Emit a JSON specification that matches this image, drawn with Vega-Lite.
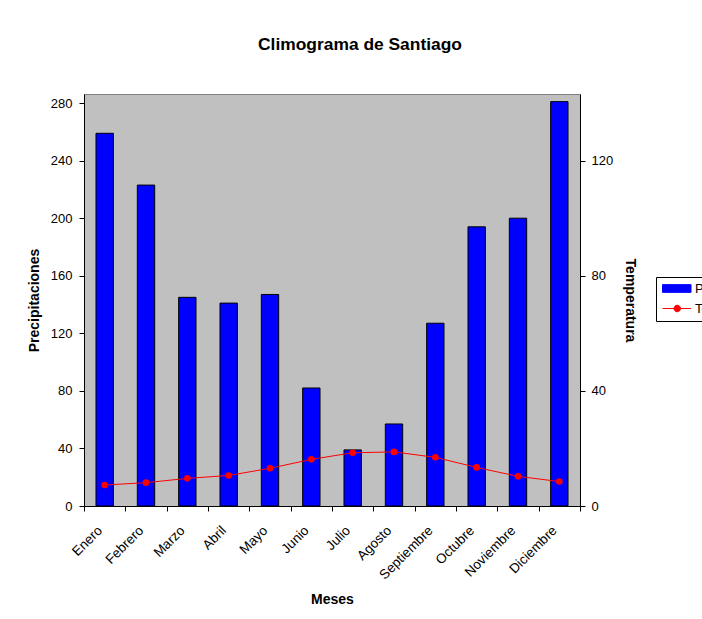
{
  "$schema": "https://vega.github.io/schema/vega-lite/v6.json",
  "width": 496,
  "height": 412,
  "autosize": {"type": "none"},
  "padding": {"left": 84, "top": 94, "right": 122, "bottom": 113},
  "background": "white",
  "title": {
    "text": "Climograma de Santiago",
    "font": "Liberation Sans",
    "fontSize": 17.4,
    "fontWeight": "bold",
    "color": "black",
    "anchor": "middle",
    "dx": 28,
    "offset": 41
  },
  "data": {
    "values": [
      {"mes": "Enero", "precipitaciones": 259, "temperatura": 7.3},
      {"mes": "Febrero", "precipitaciones": 223, "temperatura": 8.1},
      {"mes": "Marzo", "precipitaciones": 145, "temperatura": 9.6},
      {"mes": "Abril", "precipitaciones": 141, "temperatura": 10.6},
      {"mes": "Mayo", "precipitaciones": 147, "temperatura": 13.1},
      {"mes": "Junio", "precipitaciones": 82, "temperatura": 16.2},
      {"mes": "Julio", "precipitaciones": 39, "temperatura": 18.5},
      {"mes": "Agosto", "precipitaciones": 57, "temperatura": 18.8},
      {"mes": "Septiembre", "precipitaciones": 127, "temperatura": 16.9},
      {"mes": "Octubre", "precipitaciones": 194, "temperatura": 13.4},
      {"mes": "Noviembre", "precipitaciones": 200, "temperatura": 10.3},
      {"mes": "Diciembre", "precipitaciones": 281, "temperatura": 8.5}
    ]
  },
  "encoding": {
    "x": {
      "field": "mes",
      "type": "nominal",
      "sort": null,
      "scale": {"paddingInner": 0, "paddingOuter": 0},
      "axis": {
        "title": "Meses",
        "labelAngle": -45,
        "labelAlign": "right",
        "labelBaseline": "middle",
        "labelFontSize": 13.5,
        "labelPadding": 17,
        "labelOffset": -5,
        "tickBand": "extent",
        "tickSize": 5,
        "titlePadding": 11
      }
    }
  },
  "layer": [
    {
      "mark": {"type": "bar", "stroke": "black", "strokeWidth": 1, "width": {"band": 0.42}},
      "encoding": {
        "y": {
          "field": "precipitaciones",
          "type": "quantitative",
          "scale": {"domain": [0, 286.3], "nice": false},
          "axis": {
            "title": "Precipitaciones",
            "values": [0, 40, 80, 120, 160, 200, 240, 280],
            "labelPadding": 7,
            "titlePadding": 9
          }
        },
        "color": {
          "datum": "Precipitaciones",
          "type": "nominal",
          "scale": {"domain": ["Precipitaciones", "Temperatura"], "range": ["#0000FF", "#FF0000"]},
          "legend": {
            "title": null,
            "orient": "none",
            "legendX": 572,
            "legendY": 183,
            "strokeColor": "black",
            "fillColor": "white",
            "padding": 5,
            "symbolSize": 100,
            "labelFontSize": 13,
            "labelOffset": 21,
            "rowPadding": 6,
            "encode": {
              "symbols": {
                "update": {
                  "shape": {"signal": "datum.value === 'Precipitaciones' ? 'M-1,-0.77H4.7V0.77H-1Z' : 'M-1,0H4.7M1.3,0A0.65,0.65 0 1,0 2.6,0A0.65,0.65 0 1,0 1.3,0'"},
                  "fill": {"signal": "datum.value === 'Precipitaciones' ? '#0000FF' : '#FF0000'"},
                  "stroke": {"signal": "datum.value === 'Precipitaciones' ? '#000000' : '#FF0000'"},
                  "strokeWidth": {"value": 1},
                  "opacity": {"value": 1}
                }
              }
            }
          }
        }
      }
    },
    {
      "mark": {"type": "line", "strokeWidth": 1, "point": {"filled": true, "size": 44}},
      "encoding": {
        "y": {
          "field": "temperatura",
          "type": "quantitative",
          "scale": {"domain": [0, 143.15], "nice": false},
          "axis": {
            "title": "Temperatura",
            "orient": "right",
            "values": [0, 40, 80, 120],
            "labelPadding": 6,
            "titlePadding": 10
          }
        },
        "color": {
          "datum": "Temperatura",
          "type": "nominal",
          "legend": {
            "title": null,
            "orient": "none",
            "legendX": 572,
            "legendY": 183,
            "strokeColor": "black",
            "fillColor": "white",
            "padding": 5,
            "symbolSize": 100,
            "labelFontSize": 13,
            "labelOffset": 21,
            "rowPadding": 6,
            "encode": {
              "symbols": {
                "update": {
                  "shape": {"signal": "datum.value === 'Precipitaciones' ? 'M-1,-0.77H4.7V0.77H-1Z' : 'M-1,0H4.7M1.3,0A0.65,0.65 0 1,0 2.6,0A0.65,0.65 0 1,0 1.3,0'"},
                  "fill": {"signal": "datum.value === 'Precipitaciones' ? '#0000FF' : '#FF0000'"},
                  "stroke": {"signal": "datum.value === 'Precipitaciones' ? '#000000' : '#FF0000'"},
                  "strokeWidth": {"value": 1},
                  "opacity": {"value": 1}
                }
              }
            }
          }
        }
      }
    }
  ],
  "resolve": {"scale": {"y": "independent"}},
  "config": {
    "font": "Liberation Sans",
    "view": {"fill": "#C0C0C0", "stroke": "#808080", "strokeWidth": 1},
    "axis": {
      "grid": false,
      "domainColor": "black",
      "tickColor": "black",
      "labelColor": "black",
      "titleColor": "black",
      "labelFont": "Liberation Sans",
      "titleFont": "Liberation Sans",
      "labelFontSize": 13,
      "titleFontSize": 14,
      "titleFontWeight": "bold",
      "tickSize": 5,
      "labelPadding": 5
    },
    "legend": {"labelFont": "Liberation Sans", "labelColor": "black"}
  }
}
